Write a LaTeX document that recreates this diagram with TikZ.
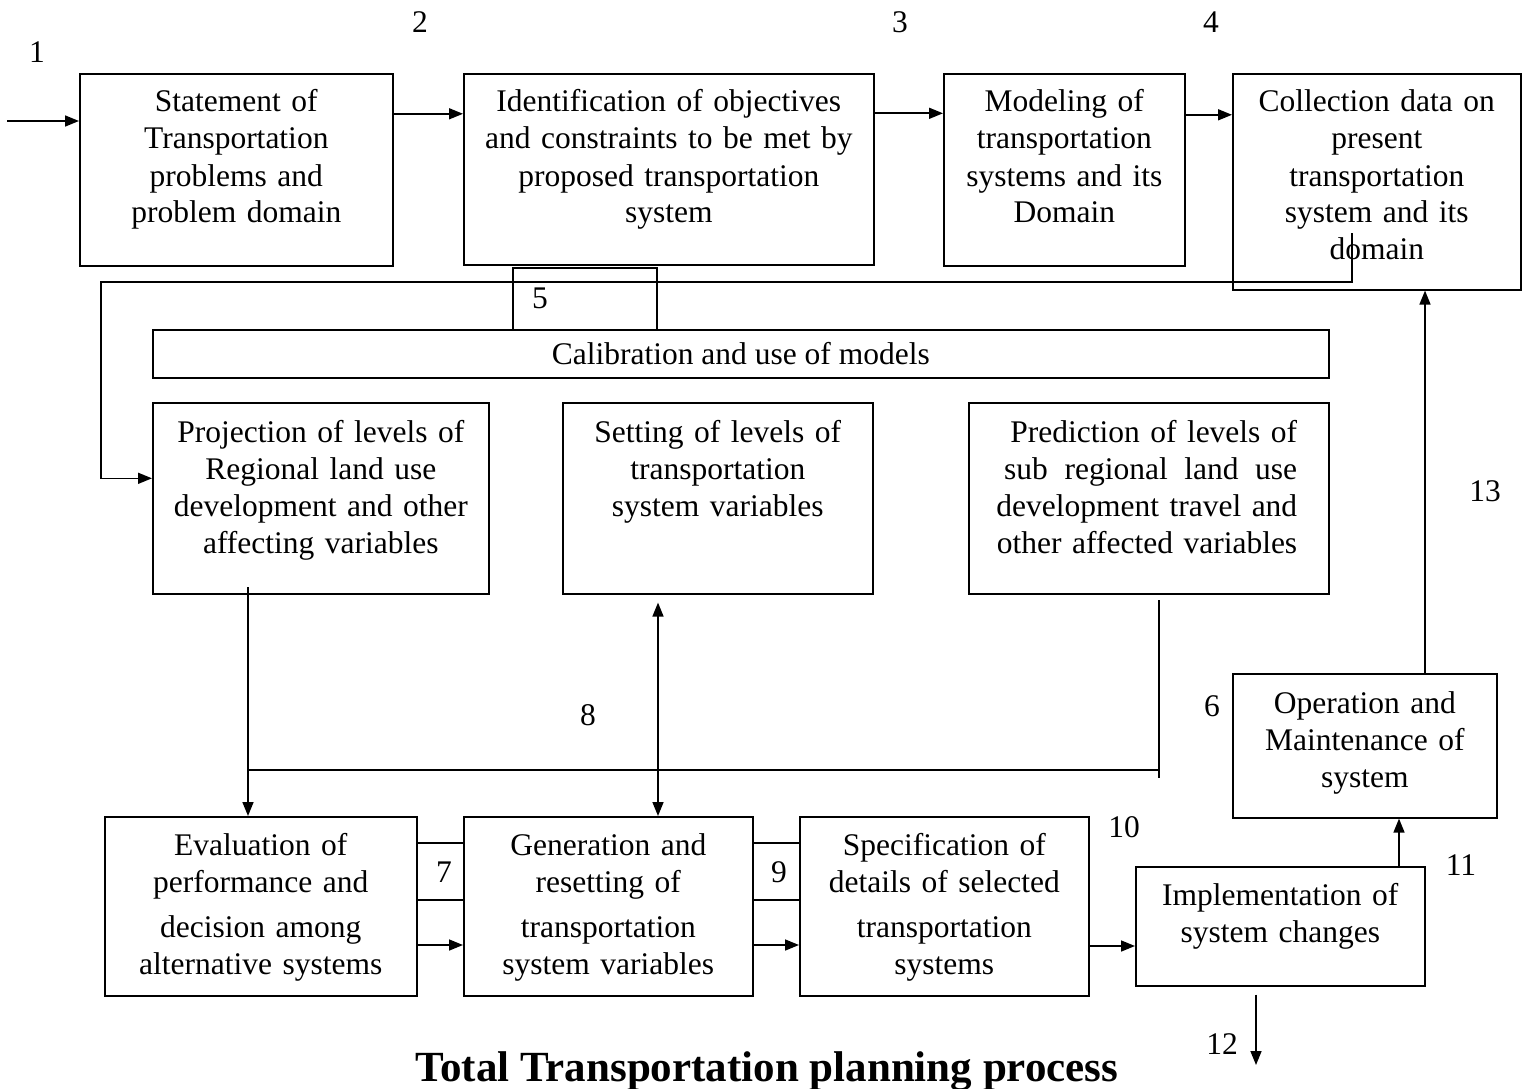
\documentclass[tikz,border=0pt]{standalone}
\usepackage{fontspec}
\setmainfont{Liberation Serif}
\usetikzlibrary{arrows.meta,positioning}

\begin{document}
\begin{tikzpicture}[x=1pt,y=-1pt,line width=1.6pt,
  box/.style={draw,anchor=north west,inner sep=0pt},
  txt/.style={anchor=base,inner sep=0pt,align=center,font=\fontsize{31.5}{37}\selectfont},
  num/.style={inner sep=0pt,font=\fontsize{31.5}{37}\selectfont},
  arr/.style={-{Triangle[length=14pt,width=11pt]}}]
\useasboundingbox (0,0) rectangle (1528,1089);

\node[box,minimum width=313pt,minimum height=192pt] (stmt) at (79,73) {};
\node[box,minimum width=410pt,minimum height=191pt] (ident) at (463,73) {};
\node[box,minimum width=241pt,minimum height=192pt] (model) at (943,73) {};
\node[box,minimum width=288pt,minimum height=216pt] (coll) at (1232,73) {};
\node[txt,text width=300pt] (stmtT) at ([yshift=-39pt]stmt.north) {Statement of\\Transportation\\problems and\\problem domain};
\node[txt,text width=400pt] (identT) at ([yshift=-39pt]ident.north) {Identification of objectives\\and constraints to be met by\\proposed transportation\\system};
\node[txt,text width=235pt] (modelT) at ([yshift=-39pt]model.north) {Modeling of\\transportation\\systems and its\\Domain};
\node[txt,text width=280pt] (collT) at ([yshift=-39pt]coll.north) {Collection data on\\present\\transportation\\system and its\\domain};

\node[box,minimum width=144pt,minimum height=62pt] (five) at (512,267) {};
\node[box,minimum width=1176pt,minimum height=48pt] (calib) at (152,329) {};
\node[txt] (calibT) at ([yshift=-11pt]calib.center) {Calibration and use of models};

\node[box,minimum width=336pt,minimum height=191pt] (proj) at (152,402) {};
\node[box,minimum width=310pt,minimum height=191pt] (set) at (562,402) {};
\node[box,minimum width=360pt,minimum height=191pt] (pred) at (968,402) {};
\node[txt,text width=330pt] (projT) at ([yshift=-40pt]proj.north) {Projection of levels of\\Regional land use\\development and other\\affecting variables};
\node[txt,text width=300pt] (setT) at ([yshift=-40pt]set.north) {Setting of levels of\\transportation\\system variables};
\node[txt,anchor=base east,text width=310pt,align=right] (predT) at (1298,442) {Prediction of levels of\\\makebox[293pt]{sub\hfill regional\hfill land\hfill use}\\development travel and\\other affected variables};

\node[box,minimum width=312pt,minimum height=179pt] (eval) at (104,816) {};
\node[box,minimum width=289pt,minimum height=179pt] (gen) at (463,816) {};
\node[box,minimum width=289pt,minimum height=179pt] (spec) at (799,816) {};
\node[box,minimum width=289pt,minimum height=119pt] (impl) at (1135,866) {};
\node[box,minimum width=264pt,minimum height=144pt] (oper) at (1232,673) {};
\node[txt,text width=305pt] (evalT) at ([yshift=-39pt]eval.north) {Evaluation of\\performance and\\[8pt]decision among\\alternative systems};
\node[txt,text width=285pt] (genT) at ([yshift=-39pt]gen.north) {Generation and\\resetting of\\[8pt]transportation\\system variables};
\node[txt,text width=285pt] (specT) at ([yshift=-39pt]spec.north) {Specification of\\details of selected\\[8pt]transportation\\systems};
\node[txt,text width=285pt] (implT) at ([yshift=-39pt]impl.north) {Implementation of\\system changes};
\node[txt,text width=260pt] (operT) at ([yshift=-40pt]oper.north) {Operation and\\Maintenance of\\system};

\node[num] (n1) at (37,52) {1};
\node[num] (n2) at (420,22) {2};
\node[num] (n3) at (900,22) {3};
\node[num] (n4) at (1211,22) {4};
\node[num] (n5) at (540,298) {5};
\node[num] (n6) at (1212,706) {6};
\node[num] (n7) at (444,872) {7};
\node[num] (n8) at (588,715) {8};
\node[num] (n9) at (779,872) {9};
\node[num] (n10) at (1124,827) {10};
\node[num] (n11) at (1461,865) {11};
\node[num] (n12) at (1222,1044) {12};
\node[num] (n13) at (1485,491) {13};
\node[num,anchor=base,font=\fontsize{43}{50}\selectfont\bfseries] (title) at (767,1081) {Total Transportation planning process};

\coordinate (in) at (7,121);
\coordinate (fb) at (1352,233);
\coordinate (joinL) at (248,770);
\coordinate (joinR) at (1159,770);
\coordinate (out) at (1256,1065);

\draw[arr] (in) -- (in -| stmt.west);
\draw[arr] ([yshift=56pt]stmt.east) -- ([yshift=56pt]stmt.east -| ident.west);
\draw[arr] ([yshift=56pt]ident.east) -- ([yshift=56pt]ident.east -| model.west);
\draw[arr] ([yshift=55pt]model.east) -- ([yshift=55pt]model.east -| coll.west);
\draw[arr] (fb) |- (101,282) |- ([yshift=20pt]proj.west);

\draw[arr] (joinL |- 0,587) -- (joinL |- eval.north);
\draw (joinL) -- (joinR);
\draw (joinR |- 0,600) -- ([yshift=-8pt]joinR);
\draw[{Triangle[length=14pt,width=11pt]}-{Triangle[length=14pt,width=11pt]}] (set.south -| 658,0) ++(0,8) -- (gen.north -| 658,0);

\draw (eval.east |- 0,843) -- (gen.west |- 0,843);
\draw (eval.east |- 0,900) -- (gen.west |- 0,900);
\draw[arr] (eval.east |- 0,945) -- (gen.west |- 0,945);
\draw (gen.east |- 0,843) -- (spec.west |- 0,843);
\draw (gen.east |- 0,900) -- (spec.west |- 0,900);
\draw[arr] (gen.east |- 0,945) -- (spec.west |- 0,945);
\draw[arr] (spec.east |- 0,946) -- (impl.west |- 0,946);
\draw[arr] (impl.north -| 1399,0) -- (oper.south -| 1399,0);
\draw[arr] (oper.north -| 1425,0) -- (coll.south -| 1425,0);
\draw[arr] (impl.south -| out) ++(0,8) -- (out);
\end{tikzpicture}
\end{document}
